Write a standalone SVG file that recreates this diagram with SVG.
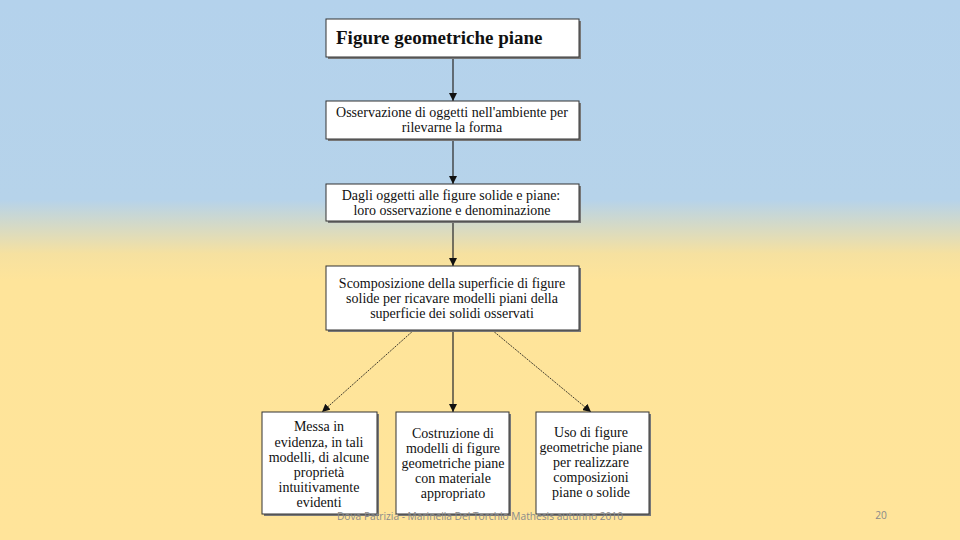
<svg xmlns="http://www.w3.org/2000/svg" width="960" height="540" viewBox="0 0 960 540">
<defs>
<linearGradient id="bg" x1="0" y1="0" x2="0" y2="1">
<stop offset="0" stop-color="#B4D2EC"/>
<stop offset="0.37" stop-color="#B6D3EA"/>
<stop offset="0.47" stop-color="#F6E1A0"/>
<stop offset="0.52" stop-color="#FEE49A"/>
<stop offset="1" stop-color="#FFE49A"/>
</linearGradient>
<marker id="ah" viewBox="0 0 10 10" refX="10" refY="5" markerWidth="8" markerHeight="8" markerUnits="userSpaceOnUse" orient="auto">
<path d="M0,0 L10,5 L0,10 z" fill="#111"/>
</marker>
<style>
.box{fill:#fff;stroke:#333;stroke-width:1}
.sh{fill:#777}
.t{font-family:"Liberation Serif","Times New Roman",serif;font-size:14px;fill:#111;text-anchor:middle}
.c{stroke:#333;stroke-width:1.3;fill:none}
.d{stroke:#111;stroke-width:0.8;fill:none;stroke-dasharray:2 1}
.ft{font-family:"Open Sans","Liberation Sans",sans-serif;font-size:10.2px;fill:#8a8a8a}
</style>
</defs>
<rect width="960" height="540" fill="url(#bg)"/>
<g id="connectors">
<line class="c" x1="453" y1="57" x2="453" y2="101" marker-end="url(#ah)"/>
<line class="c" x1="453" y1="139" x2="453" y2="184" marker-end="url(#ah)"/>
<line class="c" x1="453" y1="221" x2="453" y2="266" marker-end="url(#ah)"/>
<line class="c" x1="453" y1="330" x2="453" y2="412" marker-end="url(#ah)"/>
<line class="d" x1="414" y1="330" x2="322" y2="412" marker-end="url(#ah)"/>
<line class="d" x1="492" y1="330" x2="591" y2="412" marker-end="url(#ah)"/>
</g>
<g id="n1">
<rect class="sh" x="328" y="21" width="253" height="38"/>
<rect class="box" x="326" y="19" width="253" height="38"/>
<text x="336" y="44" style="font-family:'Liberation Serif','Times New Roman',serif;font-size:19px;font-weight:bold;fill:#111">Figure geometriche piane</text>
</g>
<g id="n2">
<rect class="sh" x="328" y="103" width="253" height="38"/>
<rect class="box" x="326" y="101" width="253" height="38"/>
<text class="t" x="452" y="117">Osservazione di oggetti nell'ambiente per</text>
<text class="t" x="452" y="132">rilevarne la forma</text>
</g>
<g id="n3">
<rect class="sh" x="328" y="186" width="253" height="37"/>
<rect class="box" x="326" y="184" width="253" height="37"/>
<text class="t" x="451" y="200">Dagli oggetti alle figure solide e piane:</text>
<text class="t" x="452" y="215">loro osservazione e denominazione</text>
</g>
<g id="n4">
<rect class="sh" x="328" y="268" width="253" height="64"/>
<rect class="box" x="326" y="266" width="253" height="64"/>
<text class="t" x="452" y="288">Scomposizione della superficie di figure</text>
<text class="t" x="452" y="303">solide per ricavare modelli piani della</text>
<text class="t" x="452" y="318">superficie dei solidi osservati</text>
</g>
<g id="n5">
<rect class="sh" x="264" y="414" width="115" height="102"/>
<rect class="box" x="262" y="412" width="115" height="102"/>
<text class="t" x="319" y="431">Messa in</text>
<text class="t" x="319" y="447">evidenza, in tali</text>
<text class="t" x="319" y="462">modelli, di alcune</text>
<text class="t" x="319" y="477">proprietà</text>
<text class="t" x="319" y="492">intuitivamente</text>
<text class="t" x="319" y="507">evidenti</text>
</g>
<g id="n6">
<rect class="sh" x="398" y="414" width="113" height="102"/>
<rect class="box" x="396" y="412" width="113" height="102"/>
<text class="t" x="453" y="438">Costruzione di</text>
<text class="t" x="453" y="453">modelli di figure</text>
<text class="t" x="453" y="468">geometriche piane</text>
<text class="t" x="453" y="483">con materiale</text>
<text class="t" x="453" y="498">appropriato</text>
</g>
<g id="n7">
<rect class="sh" x="538" y="414" width="113" height="102"/>
<rect class="box" x="536" y="412" width="113" height="102"/>
<text class="t" x="591" y="437">Uso di figure</text>
<text class="t" x="591" y="452">geometriche piane</text>
<text class="t" x="591" y="467">per realizzare</text>
<text class="t" x="591" y="482">composizioni</text>
<text class="t" x="591" y="497">piane o solide</text>
</g>
<text class="ft" x="480" y="520" text-anchor="middle">Dova Patrizia - Marinella Del Torchio Mathesis autunno 2010</text>
<text class="ft" x="881" y="519" text-anchor="middle">20</text>
</svg>
